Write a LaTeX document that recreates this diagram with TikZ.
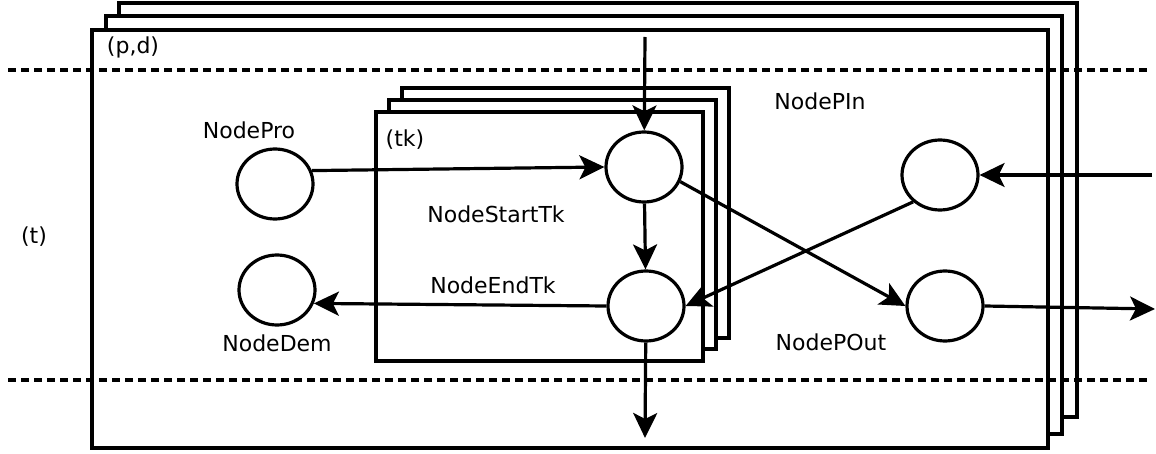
\documentclass[tikz,border=0pt]{standalone}
\usepackage{fontspec}
\setmainfont{DejaVu Sans}
\usetikzlibrary{arrows.meta,shapes.geometric,positioning}

\begin{document}
\begin{tikzpicture}[x=1pt, y=-1pt, line width=3.2pt,
        every node/.style={font=\fontsize{22}{26}\selectfont, inner sep=0pt},
        place/.style={ellipse, draw, line width=3.2pt, minimum width=76pt, minimum height=70pt},
        frame/.style={draw, fill=white},
        sep/.style={dash pattern=on 8pt off 5pt},
        flow/.style={-{Stealth[length=25pt, width=24pt, inset=6pt]}}]
    \useasboundingbox (0,0) rectangle (1156,454);
    % (p,d) stack
    \draw [frame] (119,3) rectangle (1077,417);
    \draw [frame] (106,16) rectangle (1062,434);
    \draw [frame] (92,30) rectangle (1048,448);
    \draw [sep] (8,70) -- (1150,70);
    \draw [sep] (8,380) -- (1150,380);
    % (tk) stack
    \draw [frame] (402,88) rectangle (729,338);
    \draw [frame] (389,100) rectangle (716,349);
    \draw [frame] (376,112) rectangle (703,361);
    \node (pd) at (133,47) {(p,d)};
    \node (t) at (34,237) {(t)};
    \node (tk) at (405,140) {(tk)};
    \node (pinlabel) at (820,101) {NodePIn};
    \node (poutlabel) at (831,342) {NodePOut};
    \node (startlabel) at (496,214) {NodeStartTk};
    \node (endlabel) at (493,285) {NodeEndTk};
    \node [place] (pro) at (275,184) {};
    \node [above=7pt of pro, xshift=-26pt] (prolabel) {NodePro};
    \node [place] (dem) at (277,290) {};
    \node [below=7pt of dem] (demlabel) {NodeDem};
    \node [place] (starttk) at (644,167) {};
    \node [place] (endtk) at (646,306) {};
    \node [place] (pin) at (940,175) {};
    \node [place] (pout) at (945,306) {};
    \coordinate (top) at (645,37);
    \coordinate (bottom) at (645,438);
    \coordinate (inright) at (1152,175);
    \coordinate (outright) at (1155,309);
    \draw [flow] (top) -- (starttk);
    \draw [flow] (pro.20) -- (starttk.west);
    \draw [flow] (starttk) -- (endtk);
    \draw [flow] (endtk.west) -- (dem.-20);
    \draw [flow] (starttk.-22) -- (pout.west);
    \draw [flow] (pin.225) -- (endtk.east);
    \draw [flow] (inright) -- (pin.east);
    \draw [flow] (pout.east) -- (outright);
    \draw [flow] (endtk) -- (bottom);
\end{tikzpicture}
\end{document}
